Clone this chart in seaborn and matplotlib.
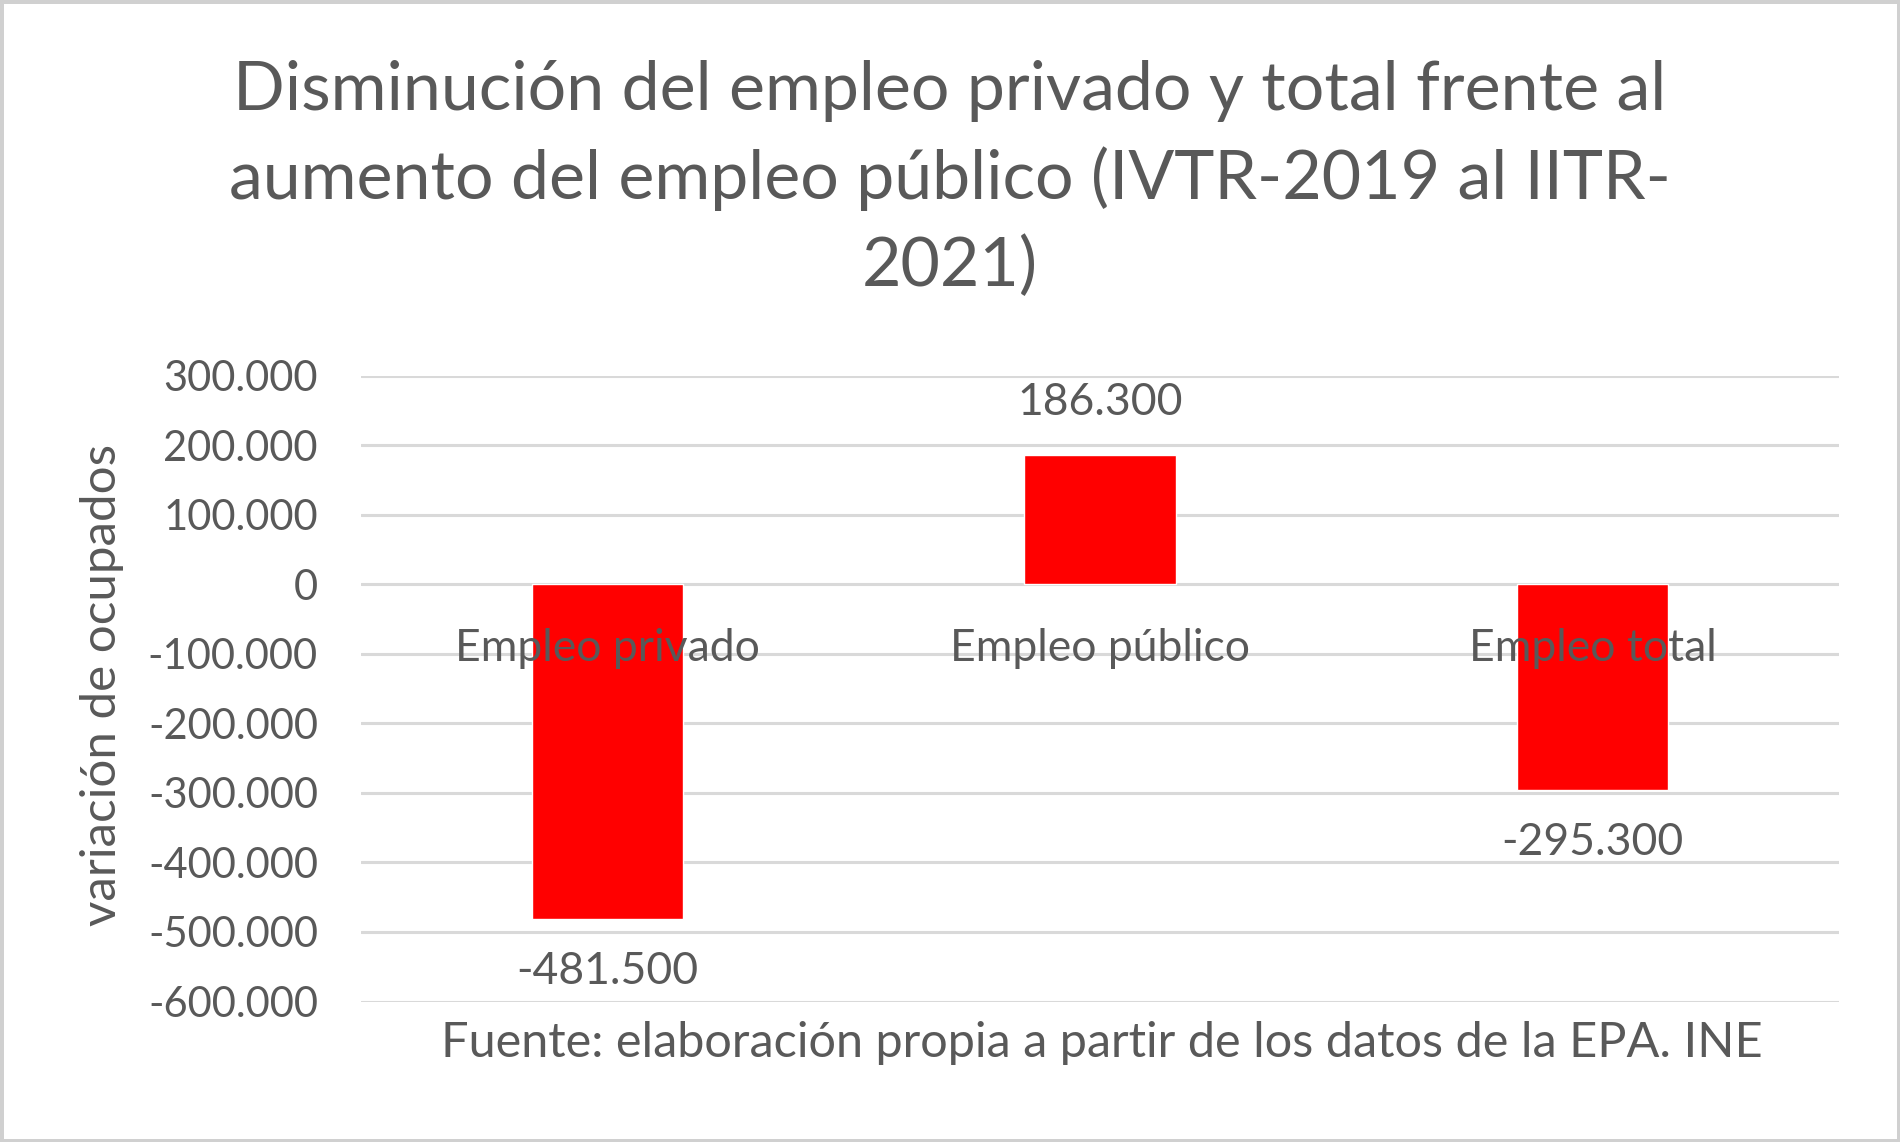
import pandas as pd
import seaborn as sns
import matplotlib.pyplot as plt
from matplotlib.ticker import FuncFormatter, MultipleLocator

# datos
categorias = ["Empleo privado", "Empleo público", "Empleo total"]
variacion = [-481500, 186300, -295300]
etiquetas = ["-481.500", "186.300", "-295.300"]

titulo_lineas = [
    "Disminución del empleo privado y total frente al",
    "aumento del empleo público (IVTR-2019 al IITR-",
    "2021)",
]
eje_y = "variación de ocupados"
fuente = "Fuente: elaboración propia a partir de los datos de la EPA. INE"

GRIS_TXT = "#595959"
GRIS_GRID = "#D9D9D9"
ROJO = "#FF0000"

sns.set_theme(style="white")
plt.rcParams['font.family'] = ['Lato', 'DejaVu Sans']

df = pd.DataFrame({"cat": categorias, "val": variacion})

fig = plt.figure(figsize=(19, 11.42), dpi=100)
fig.patch.set_edgecolor("#D0D0D0")
fig.patch.set_linewidth(5)
ax = fig.add_axes([0.190, 0.123, 0.778, 0.548])

sns.barplot(data=df, x="cat", y="val", color=ROJO, saturation=1,
            width=0.307, ax=ax, zorder=2)

ax.set_xlim(-0.5, 2.5)
ax.set_ylim(-600000, 300000)
ax.yaxis.set_major_locator(MultipleLocator(100000))
ax.yaxis.set_major_formatter(FuncFormatter(lambda v, p: f"{int(round(v)):,}".replace(",", ".")))
ax.grid(axis="y", color=GRIS_GRID, lw=2.2)
ax.set_axisbelow(True)
for s in ax.spines.values():
    s.set_visible(False)
ax.tick_params(axis="x", length=0, labelbottom=False)
ax.tick_params(axis="y", length=0, pad=31, labelsize=30, labelcolor=GRIS_TXT)
ax.set_xlabel("")
ax.set_ylabel(eje_y, fontsize=35.5, color=GRIS_TXT)
ax.yaxis.set_label_coords(-0.160, 0.506)

# etiquetas de valor
ax.bar_label(ax.containers[0], labels=etiquetas, padding=23,
             fontsize=32, color=GRIS_TXT)

# nombres de categoria junto al eje cero
for i, c in enumerate(categorias):
    ax.annotate(c, (i, 0), xytext=(0, -46), textcoords="offset points",
                ha="center", va="center", fontsize=32, color=GRIS_TXT, zorder=5)

# titulo
for y, linea in zip([75, 147, 220], titulo_lineas):
    fig.text(0.5, 1 - y / 942, linea, ha="center", va="center",
             fontsize=49, color=GRIS_TXT)

fig.text(0.580, 1 - 860 / 942, fuente, ha="center", va="center",
         fontsize=35, color=GRIS_TXT)

fig.savefig("out.png", dpi=100, edgecolor=fig.get_edgecolor())
